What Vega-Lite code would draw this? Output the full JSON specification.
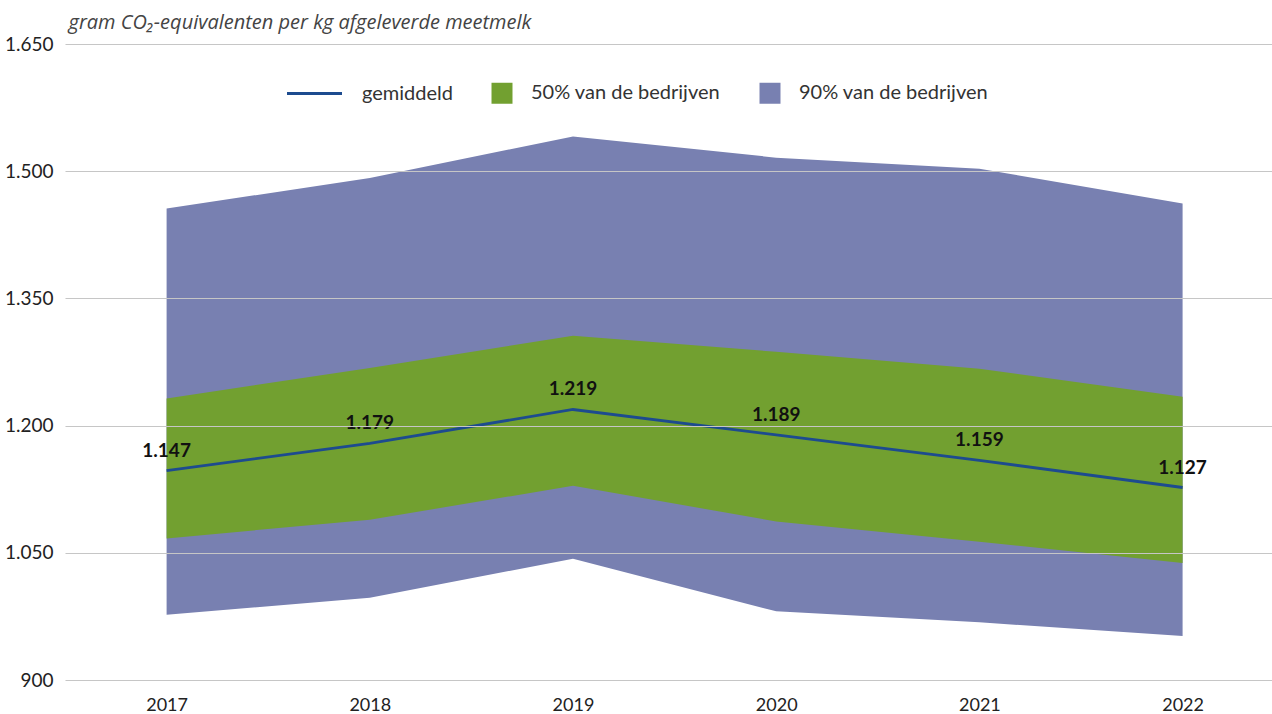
{
  "$schema": "https://vega.github.io/schema/vega-lite/v6.json",
  "width": 1207,
  "height": 636,
  "autosize": {"type": "none"},
  "padding": {"left": 65, "top": 44, "right": 0, "bottom": 34},
  "background": "white",
  "config": {
    "font": "Lato",
    "view": {"stroke": null},
    "locale": {"number": {"decimal": ",", "thousands": ".", "grouping": [3], "currency": ["€", ""]}}
  },
  "data": {
    "values": [
      {"jaar": 2017, "p5": 977, "p25": 1067, "gemiddeld": 1147, "p75": 1232, "p95": 1456},
      {"jaar": 2018, "p5": 997, "p25": 1089, "gemiddeld": 1179, "p75": 1268, "p95": 1492},
      {"jaar": 2019, "p5": 1043, "p25": 1129, "gemiddeld": 1219, "p75": 1306, "p95": 1541},
      {"jaar": 2020, "p5": 981, "p25": 1087, "gemiddeld": 1189, "p75": 1287, "p95": 1516},
      {"jaar": 2021, "p5": 968, "p25": 1063, "gemiddeld": 1159, "p75": 1267, "p95": 1503},
      {"jaar": 2022, "p5": 952, "p25": 1038, "gemiddeld": 1127, "p75": 1234, "p95": 1462}
    ]
  },
  "encoding": {
    "x": {
      "field": "jaar",
      "type": "quantitative",
      "scale": {"domain": [2016.5, 2022.44], "nice": false, "zero": false},
      "axis": {
        "values": [2017, 2018, 2019, 2020, 2021, 2022],
        "format": "d",
        "title": null,
        "grid": false,
        "domain": false,
        "ticks": false,
        "labelFontSize": 18,
        "labelColor": "#222222",
        "labelPadding": 16,
        "labelFlush": false
      }
    }
  },
  "layer": [
    {
      "mark": {"type": "area", "opacity": 1},
      "encoding": {
        "y": {
          "field": "p5",
          "type": "quantitative",
          "scale": {"domain": [900, 1650], "nice": false, "zero": false},
          "axis": {
            "values": [900, 1050, 1200, 1350, 1500, 1650],
            "format": ",d",
            "zindex": 1,
            "grid": true,
            "gridColor": "#c6c6c6",
            "gridWidth": 1.2,
            "domain": false,
            "ticks": false,
            "labelFontSize": 19,
            "labelColor": "#222222",
            "labelPadding": 12,
            "title": "gram CO₂-equivalenten per kg afgeleverde meetmelk",
            "titleAngle": 0,
            "titleAlign": "left",
            "titleBaseline": "alphabetic",
            "titleX": 3,
            "titleY": -16,
            "titleFont": "Open Sans",
            "titleFontStyle": "italic",
            "titleFontWeight": "normal",
            "titleFontSize": 20,
            "titleColor": "#444444"
          }
        },
        "y2": {"field": "p95"},
        "color": {
          "datum": "90% van de bedrijven",
          "type": "nominal",
          "scale": {
            "domain": ["gemiddeld", "50% van de bedrijven", "90% van de bedrijven"],
            "range": ["#1d4b8f", "#72a030", "#7880b1"]
          },
          "legend": {
            "title": null,
            "orient": "none",
            "legendX": 222,
            "legendY": 39,
            "direction": "horizontal",
            "symbolType": "square",
            "symbolSize": 441,
            "symbolOpacity": 1,
            "symbolStrokeWidth": 0,
            "labelFontSize": 20,
            "labelColor": "#333333",
            "labelOffset": 18,
            "columnPadding": 38,
            "labelLimit": 400,
            "encode": {
              "symbols": {
                "update": {
                  "shape": {"signal": "datum.label == 'gemiddeld' ? 'stroke' : 'square'"},
                  "size": {"signal": "datum.label == 'gemiddeld' ? 3025 : 441"},
                  "x": {"signal": "datum.label == 'gemiddeld' ? 27.5 : 11"},
                  "stroke": {"signal": "scale('color', datum.value)"},
                  "fill": {"signal": "scale('color', datum.value)"},
                  "strokeWidth": {"signal": "datum.label == 'gemiddeld' ? 3 : 0"}
                }
              },
              "labels": {
                "update": {
                  "x": {"signal": "datum.label == 'gemiddeld' ? 75 : 40"}
                }
              }
            }
          }
        }
      }
    },
    {
      "mark": {"type": "area", "opacity": 1},
      "encoding": {
        "y": {"field": "p25", "type": "quantitative"},
        "y2": {"field": "p75"},
        "color": {"datum": "50% van de bedrijven", "type": "nominal"}
      }
    },
    {
      "mark": {"type": "line", "strokeWidth": 2.8},
      "encoding": {
        "y": {"field": "gemiddeld", "type": "quantitative"},
        "color": {"datum": "gemiddeld", "type": "nominal"}
      }
    },
    {
      "mark": {"type": "text", "fontWeight": "bold", "fontSize": 19, "dy": -14, "baseline": "alphabetic", "color": "#111111"},
      "encoding": {
        "y": {"field": "gemiddeld", "type": "quantitative"},
        "text": {"field": "gemiddeld", "type": "quantitative", "format": ",d"}
      }
    }
  ]
}
